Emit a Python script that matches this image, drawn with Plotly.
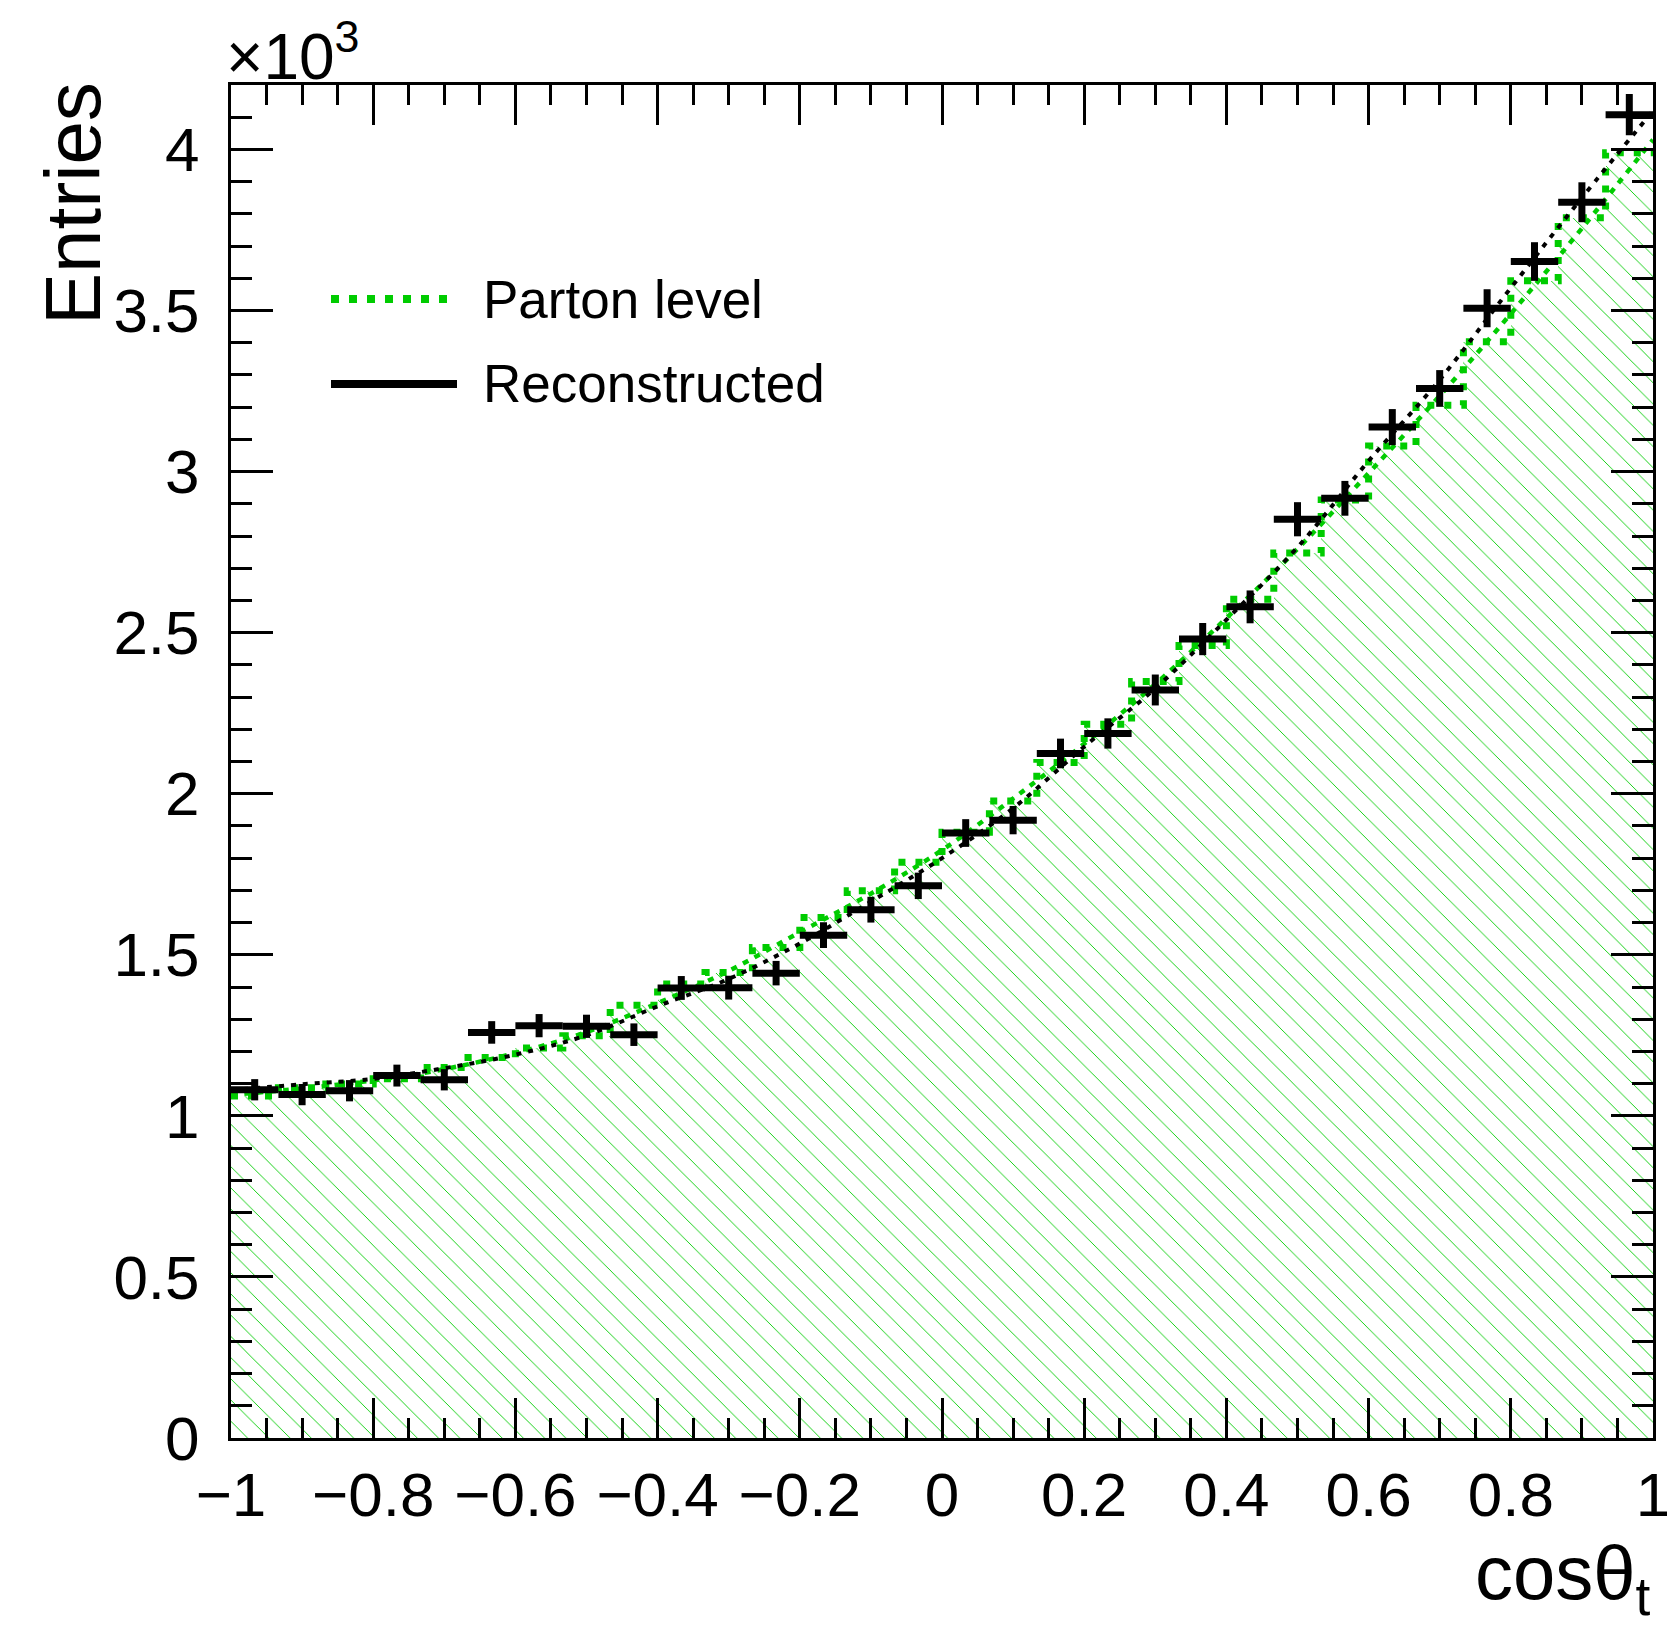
import numpy as np
import plotly.graph_objects as go

# ---------------- data ----------------
bin_edges = np.linspace(-1.0, 1.0, 31)          # 30 bins in cos(theta_t)

parton_level = [1062, 1087, 1099, 1115, 1150, 1181, 1211, 1249, 1343, 1409,
                1445, 1523, 1616, 1699, 1787, 1880, 1977, 2097, 2216, 2348,
                2460, 2604, 2747, 2912, 3079, 3206, 3403, 3592, 3788, 3990]

reconstructed = [1081, 1066, 1078, 1125, 1112, 1259, 1280, 1278, 1252, 1397,
                 1398, 1443, 1561, 1640, 1714, 1878, 1918, 2125, 2187, 2322,
                 2480, 2580, 2852, 2917, 3138, 3258, 3507, 3652, 3836, 4108]

reconstructed_err = [33, 33, 33, 34, 33, 35, 36, 36, 35, 37,
                     37, 38, 40, 40, 41, 43, 44, 46, 47, 48,
                     50, 51, 53, 54, 56, 57, 59, 60, 62, 64]

fit_x = [-1.0, -0.9, -0.8, -0.7, -0.6, -0.5, -0.4, -0.3, -0.2, -0.1, 0.0,
         0.1, 0.2, 0.3, 0.4, 0.5, 0.6, 0.7, 0.8, 0.9, 1.0]
parton_fit = [1065, 1085, 1110, 1145, 1195, 1260, 1350, 1450, 1570, 1690, 1825,
              1985, 2155, 2340, 2545, 2760, 2995, 3235, 3490, 3755, 4030]
reco_fit = [1080, 1098, 1115, 1148, 1190, 1250, 1340, 1425, 1535, 1665, 1800,
            1955, 2146, 2327, 2540, 2765, 3033, 3285, 3570, 3850, 4120]

x_tick_vals = [-1.0, -0.8, -0.6, -0.4, -0.2, 0.0, 0.2, 0.4, 0.6, 0.8, 1.0]
x_tick_text = ["\u22121", "\u22120.8", "\u22120.6", "\u22120.4", "\u22120.2", "0",
               "0.2", "0.4", "0.6", "0.8", "1"]
y_tick_vals = [0, 500, 1000, 1500, 2000, 2500, 3000, 3500, 4000]
y_tick_text = ["0", "0.5", "1", "1.5", "2", "2.5", "3", "3.5", "4"]

legend_labels = ["Parton level", "Reconstructed"]

# ---------------- derived ----------------
bin_centers = 0.5 * (bin_edges[:-1] + bin_edges[1:])
bin_width = float(bin_edges[1] - bin_edges[0])
step_x = list(bin_edges)
step_y = parton_level + [parton_level[-1]]

GREEN = "#00cc00"
FONT = "Liberation Sans, Arial, Helvetica, sans-serif"

fig = go.Figure()

# hatched parton-level histogram
fig.add_trace(go.Bar(
    x=bin_centers, y=parton_level, width=bin_width,
    marker=dict(color="white", line=dict(width=0),
                pattern=dict(shape="\\", fgcolor=GREEN, bgcolor="white",
                             size=15, solidity=0.06, fillmode="replace")),
    name=legend_labels[0], showlegend=False, hoverinfo="skip"))

# dotted step outline of the parton-level histogram
fig.add_trace(go.Scatter(
    x=step_x, y=step_y, mode="lines", line_shape="hv",
    line=dict(color=GREEN, width=7, dash="7px,10px"),
    showlegend=False, hoverinfo="skip"))

# smooth fits
fig.add_trace(go.Scatter(
    x=fit_x, y=parton_fit, mode="lines", line_shape="spline",
    line=dict(color=GREEN, width=4.5, dash="6px,7px"),
    showlegend=False, hoverinfo="skip"))
fig.add_trace(go.Scatter(
    x=fit_x, y=reco_fit, mode="lines", line_shape="spline",
    line=dict(color="black", width=4, dash="5px,7px"),
    showlegend=False, hoverinfo="skip"))

# reconstructed points (crosses)
fig.add_trace(go.Scatter(
    x=bin_centers, y=reconstructed, mode="markers",
    marker=dict(size=1, color="black", opacity=0),
    error_x=dict(type="constant", value=bin_width / 2, thickness=7, width=0, color="black"),
    error_y=dict(type="data", array=reconstructed_err, thickness=7, width=0, color="black"),
    name=legend_labels[1], showlegend=False))

axis_common = dict(
    showline=True, linewidth=3, linecolor="black", mirror="ticks",
    ticks="inside", tickwidth=2.5, tickcolor="black",
    showgrid=False, zeroline=False, automargin=False,
    tickfont=dict(family=FONT, size=62, color="black"),
)

fig.update_xaxes(
    range=[-1, 1], tickmode="array", tickvals=x_tick_vals, ticktext=x_tick_text,
    ticklen=40, ticklabelstandoff=1,
    minor=dict(tickmode="linear", tick0=-1, dtick=0.05, ticklen=20, tickwidth=2.5,
               tickcolor="black", ticks="inside", showgrid=False),
    **axis_common)
fig.update_yaxes(
    range=[0, 4200], tickmode="array", tickvals=y_tick_vals, ticktext=y_tick_text,
    ticklen=42, ticklabelstandoff=16,
    minor=dict(tickmode="linear", tick0=0, dtick=100, ticklen=21, tickwidth=2.5,
               tickcolor="black", ticks="inside", showgrid=False),
    **axis_common)

annotations = [
    dict(text="\u00d710<sup>3</sup>", xref="paper", yref="paper", x=0.0, y=1.0,
         xanchor="left", yanchor="bottom", showarrow=False, xshift=-6, yshift=-9,
         borderpad=0, font=dict(family=FONT, size=64, color="black")),
    dict(text="Entries", xref="paper", yref="paper", x=-0.111, y=1.0035,
         xanchor="center", yanchor="top", textangle=-90, showarrow=False,
         font=dict(family=FONT, size=78, color="black")),
    dict(text="cos\u03b8<sub>t</sub>", xref="paper", yref="paper", x=1.0, y=-0.1405,
         xanchor="right", yanchor="bottom", showarrow=False,
         font=dict(family=FONT, size=76, color="black")),
    dict(text=legend_labels[0], xref="paper", yref="paper", x=(480 - 230) / 1422,
         y=(1437 - 298) / 1353, xanchor="left", yanchor="middle", showarrow=False,
         font=dict(family=FONT, size=53, color="black")),
    dict(text=legend_labels[1], xref="paper", yref="paper", x=(480 - 230) / 1422,
         y=(1437 - 383) / 1353, xanchor="left", yanchor="middle", showarrow=False,
         font=dict(family=FONT, size=53, color="black")),
]

shapes = [
    dict(type="line", xref="paper", yref="paper",
         x0=(330 - 230) / 1422, x1=(455 - 230) / 1422,
         y0=(1437 - 298) / 1353, y1=(1437 - 298) / 1353,
         line=dict(color=GREEN, width=8, dash="8px,10px")),
    dict(type="line", xref="paper", yref="paper",
         x0=(330 - 230) / 1422, x1=(456 - 230) / 1422,
         y0=(1437 - 383) / 1353, y1=(1437 - 383) / 1353,
         line=dict(color="black", width=8)),
]

# page body adds an 8px margin; compensate so the plot area lands at x 230-1652, y 84-1437
fig.update_layout(
    width=1667, height=1620,
    margin=dict(l=223, r=22, t=77, b=190, autoexpand=False),
    plot_bgcolor="white", paper_bgcolor="white",
    bargap=0, showlegend=False,
    font=dict(family=FONT, color="black"),
    annotations=annotations, shapes=shapes,
)

fig.write_html("out.html")
